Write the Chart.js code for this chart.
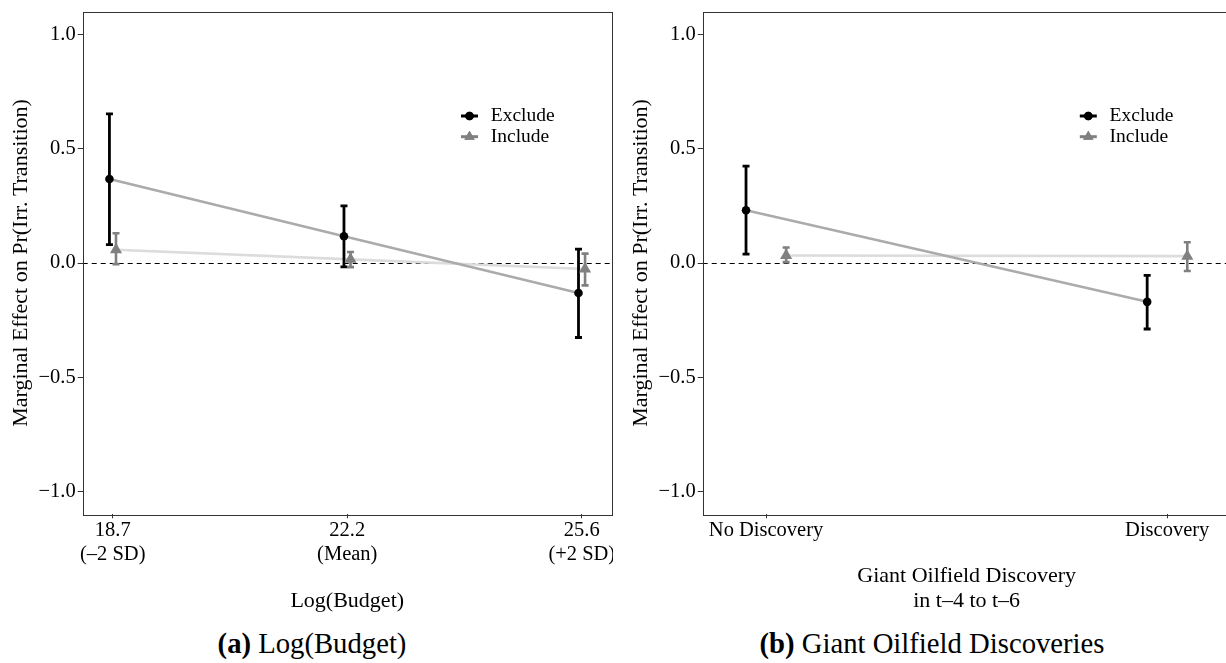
<!DOCTYPE html>
<html>
<head>
<meta charset="utf-8">
<script src="https://cdn.jsdelivr.net/npm/chart.js@4.4.1/dist/chart.umd.min.js"></script>
<style>
  body { margin: 0; width: 1226px; height: 663px; overflow: hidden; background: #fff; position: relative; font-family: "Liberation Serif", "Times New Roman", serif; }
  .panel { position: absolute; top: 0; }
  #panelA { left: 0; }
  #panelB { left: 613px; }
  .caption { position: absolute; top: 628px; line-height: 30px; font-size: 28.7px; white-space: nowrap; transform: translateX(-50%); color: #000; }
</style>
</head>
<body>
<div class="panel" id="panelA"><canvas id="budgetChart" width="613" height="620"></canvas></div>
<div class="panel" id="panelB"><canvas id="oilChart" width="620" height="620"></canvas></div>
<div class="caption" style="left:312px"><b>(a)</b> Log(Budget)</div>
<div class="caption" style="left:932px"><b>(b)</b> Giant Oilfield Discoveries</div>

<script>
// panel (a): Log(Budget)
const budgetTicks = [['18.7', '(–2 SD)'], ['22.2', '(Mean)'], ['25.6', '(+2 SD)']];
const budgetExclude = [0.368, 0.117, -0.131];
const budgetExcludeLow = [0.080, -0.017, -0.326];
const budgetExcludeHigh = [0.653, 0.250, 0.061];
const budgetInclude = [0.058, 0.016, -0.026];
const budgetIncludeLow = [-0.005, -0.018, -0.098];
const budgetIncludeHigh = [0.130, 0.048, 0.041];

// panel (b): Giant Oilfield Discovery
const oilTicks = ['No Discovery', 'Discovery'];
const oilExclude = [0.231, -0.170];
const oilExcludeLow = [0.039, -0.289];
const oilExcludeHigh = [0.424, -0.054];
const oilInclude = [0.033, 0.030];
const oilIncludeLow = [0.004, -0.035];
const oilIncludeHigh = [0.068, 0.091];

const yTicks = [-1.0, -0.5, 0.0, 0.5, 1.0];
const yTitle = 'Marginal Effect on Pr(Irr. Transition)';

Chart.defaults.font.family = '"Liberation Serif", "Times New Roman", serif';
Chart.defaults.color = '#000';

const excludeColor = '#000000';
const includeColor = '#808080';
const excludeLineColor = '#ababab';
const includeLineColor = '#dcdcdc';

function fmtTick(v) {
  return v.toFixed(1).replace('-', '−');
}

function points(values, dodge) {
  return values.map((v, i) => ({ x: i + 1 + dodge, y: v }));
}

function buildChart(canvasId, cfg) {
  const ctx = document.getElementById(canvasId).getContext('2d');
  const groups = [
    { vals: cfg.exclude, low: cfg.excludeLow, high: cfg.excludeHigh, dodge: -cfg.dodge, color: excludeColor, width: 2.8 },
    { vals: cfg.include, low: cfg.includeLow, high: cfg.includeHigh, dodge: cfg.dodge, color: includeColor, width: 2.6 }
  ];

  const zeroLine = {
    id: 'zeroLine',
    beforeDatasetsDraw(chart) {
      const { ctx, chartArea, scales } = chart;
      const y0 = Math.round(scales.y.getPixelForValue(0)) + 0.5;
      ctx.save();
      ctx.strokeStyle = '#000';
      ctx.lineWidth = 1.1;
      ctx.setLineDash([5, 4]);
      ctx.beginPath();
      ctx.moveTo(chartArea.left, y0);
      ctx.lineTo(chartArea.right, y0);
      ctx.stroke();
      ctx.restore();
    }
  };

  const errorBars = {
    id: 'errorBars',
    afterDatasetDraw(chart, args) {
      if (args.index !== 2) return;
      const { ctx, scales } = chart;
      ctx.save();
      groups.forEach(g => {
        ctx.strokeStyle = g.color;
        ctx.lineWidth = g.width;
        g.vals.forEach((v, i) => {
          const px = scales.x.getPixelForValue(i + 1 + g.dodge);
          const lo = scales.y.getPixelForValue(g.low[i]);
          const hi = scales.y.getPixelForValue(g.high[i]);
          ctx.beginPath();
          ctx.moveTo(px, lo);
          ctx.lineTo(px, hi);
          ctx.moveTo(px - 3.5, lo);
          ctx.lineTo(px + 3.5, lo);
          ctx.moveTo(px - 3.5, hi);
          ctx.lineTo(px + 3.5, hi);
          ctx.stroke();
        });
      });
      ctx.restore();
    }
  };

  const frame = {
    id: 'frame',
    afterDraw(chart) {
      const { ctx, chartArea } = chart;
      ctx.save();
      ctx.strokeStyle = '#333';
      ctx.lineWidth = 1;
      ctx.strokeRect(Math.round(chartArea.left) + 0.5, Math.round(chartArea.top) + 0.5,
        Math.round(chartArea.right - chartArea.left), Math.round(chartArea.bottom - chartArea.top));
      ctx.restore();
    }
  };

  const legendBox = {
    id: 'legendBox',
    afterDraw(chart) {
      const { ctx, chartArea } = chart;
      const entries = [
        { label: 'Exclude', color: excludeColor, style: 'circle', dy: 104.3 },
        { label: 'Include', color: includeColor, style: 'triangle', dy: 125 }
      ];
      ctx.save();
      entries.forEach(e => {
        const cx = chartArea.right - 142.3;
        const cy = chartArea.top + e.dy;
        ctx.strokeStyle = e.color;
        ctx.lineWidth = 3;
        ctx.beginPath();
        ctx.moveTo(cx - 8.5, cy);
        ctx.lineTo(cx + 8.5, cy);
        ctx.stroke();
        ctx.fillStyle = e.color;
        Chart.helpers.drawPoint(ctx, { pointStyle: e.style, radius: e.style === 'circle' ? 4.3 : 6, borderWidth: 0 }, cx, cy);
        ctx.fill();
        ctx.fillStyle = '#000';
        ctx.font = '19.5px "Liberation Serif", serif';
        ctx.textBaseline = 'middle';
        ctx.fillText(e.label, chartArea.right - 121, cy);
      });
      ctx.restore();
    }
  };

  return new Chart(ctx, {
    type: 'scatter',
    data: {
      datasets: [
        {
          label: 'Exclude',
          data: points(cfg.exclude, -cfg.dodge),
          pointStyle: 'circle',
          pointRadius: 4.3,
          pointBackgroundColor: excludeColor,
          pointBorderWidth: 0,
          showLine: false
        },
        {
          label: 'Include',
          data: points(cfg.include, cfg.dodge),
          pointStyle: 'triangle',
          pointRadius: 7,
          pointBackgroundColor: includeColor,
          pointBorderWidth: 0,
          showLine: false
        },
        {
          label: 'Exclude line',
          data: points(cfg.exclude, -cfg.dodge),
          showLine: true,
          pointRadius: 0,
          borderColor: excludeLineColor,
          borderWidth: 2.6
        },
        {
          label: 'Include line',
          data: points(cfg.include, cfg.dodge),
          showLine: true,
          pointRadius: 0,
          borderColor: includeLineColor,
          borderWidth: 2.6
        }
      ]
    },
    options: {
      responsive: false,
      animation: false,
      layout: { autoPadding: false, padding: { top: 11.7, right: cfg.padRight, bottom: 0, left: 0 } },
      plugins: {
        legend: { display: false },
        tooltip: { enabled: false }
      },
      scales: {
        x: {
          type: 'linear',
          min: cfg.xMin,
          max: cfg.xMax,
          afterBuildTicks: s => { s.ticks = cfg.ticks.map((t, i) => ({ value: i + 1 })); },
          ticks: {
            callback: v => cfg.ticks[Math.round(v) - 1],
            font: { size: 20.5, lineHeight: 1.17 },
            color: '#000',
            padding: 0,
            maxRotation: 0,
            autoSkip: false
          },
          grid: { drawOnChartArea: false, tickLength: 4, color: '#333' },
          border: { display: false },
          title: {
            display: true,
            text: cfg.xTitle,
            font: { size: 22, lineHeight: 1.1 },
            color: '#000',
            padding: { top: 0, bottom: 7 }
          },
          afterFit: s => {
            s.height = 105.7;
            s.paddingLeft = 0;
            s.paddingRight = 0;
          }
        },
        y: {
          min: -1.1,
          max: 1.1,
          afterBuildTicks: s => { s.ticks = yTicks.map(v => ({ value: v })); },
          ticks: {
            callback: v => fmtTick(v),
            font: { size: 20.5 },
            color: '#000',
            padding: 2
          },
          grid: { drawOnChartArea: false, tickLength: 5, color: '#333' },
          border: { display: false },
          title: {
            display: true,
            text: yTitle,
            font: { size: 22, lineHeight: 1.15 },
            color: '#000',
            padding: { top: cfg.yTitlePad, bottom: 0 }
          },
          afterFit: s => {
            s.width = cfg.yWidth;
            s.paddingTop = 0;
            s.paddingBottom = 0;
          }
        }
      }
    },
    plugins: [zeroLine, errorBars, frame, legendBox]
  });
}

const budgetChart = buildChart('budgetChart', {
  ticks: budgetTicks,
  exclude: budgetExclude, excludeLow: budgetExcludeLow, excludeHigh: budgetExcludeHigh,
  include: budgetInclude, includeLow: budgetIncludeLow, includeHigh: budgetIncludeHigh,
  dodge: 0.014,
  xMin: 0.872, xMax: 3.128,
  xTitle: 'Log(Budget)',
  yWidth: 82.7, yTitlePad: 8.9, padRight: 1.2
});

const oilChart = buildChart('oilChart', {
  ticks: oilTicks,
  exclude: oilExclude, excludeLow: oilExcludeLow, excludeHigh: oilExcludeHigh,
  include: oilInclude, includeLow: oilIncludeLow, includeHigh: oilIncludeHigh,
  dodge: 0.05,
  xMin: 0.842, xMax: 2.158,
  xTitle: ['Giant Oilfield Discovery', 'in t–4 to t–6'],
  yWidth: 89.7, yTitlePad: 15.4, padRight: 2.4
});
</script>
</body>
</html>
